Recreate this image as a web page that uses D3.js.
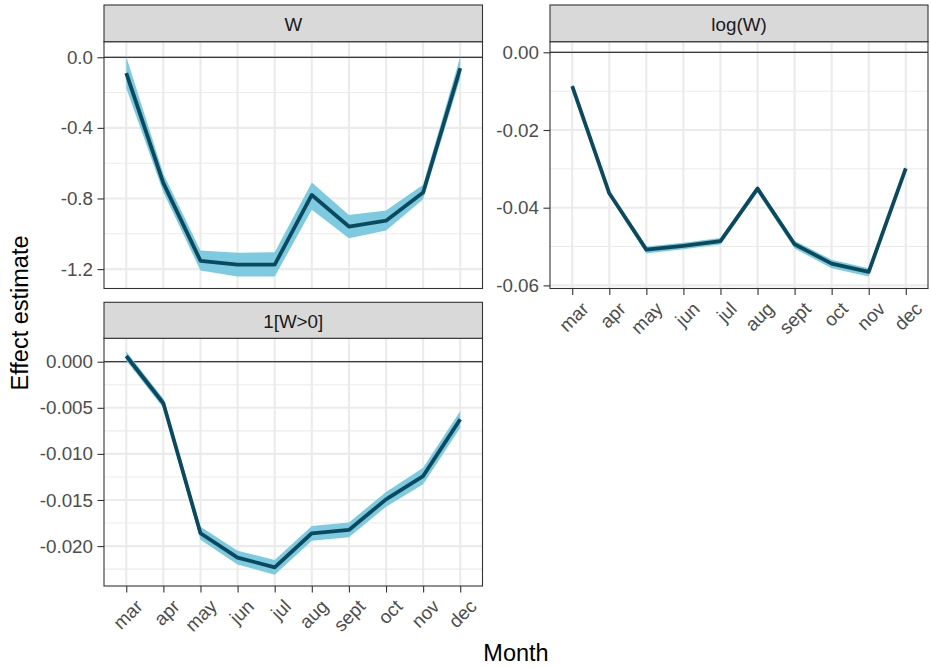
<!DOCTYPE html>
<html>
<head>
  <meta charset="utf-8" />
  <title>Effect estimate by month</title>
  <style type="text/css">
    html, body { margin: 0; background: #fff; }
    svg { display: block; font-family: "Liberation Sans", Arial, sans-serif; }
  </style>
</head>
<body>
<div id="container"></div>
<script src="https://cdn.jsdelivr.net/npm/d3@7"></script>
<script>
var months = ["mar", "apr", "may", "jun", "jul", "aug", "sept", "oct", "nov", "dec"];

// W
var wEst = [-0.09, -0.713, -1.153, -1.175, -1.175, -0.78, -0.959, -0.926, -0.766, -0.062];
var wLo  = [-0.175, -0.765, -1.208, -1.242, -1.242, -0.864, -1.025, -0.981, -0.804, -0.119];
var wHi  = [0.003, -0.66, -1.095, -1.108, -1.104, -0.71, -0.893, -0.868, -0.723, 0.003];

// log(W)
var logEst = [-0.0087, -0.0363, -0.0508, -0.0498, -0.0486, -0.0351, -0.0494, -0.0544, -0.0565, -0.0299];
var logLo  = [-0.0093, -0.0369, -0.0518, -0.0507, -0.0495, -0.0360, -0.0505, -0.0556, -0.0577, -0.0305];
var logHi  = [-0.0081, -0.0357, -0.0500, -0.0490, -0.0478, -0.0342, -0.0485, -0.0534, -0.0556, -0.0293];

// 1[W>0]
var indEst = [0.00062, -0.00451, -0.01861, -0.02125, -0.0223, -0.01861, -0.01825, -0.01493, -0.0124, -0.00625];
var indLo  = [0.00012, -0.00501, -0.01931, -0.02200, -0.0231, -0.01941, -0.01905, -0.01573, -0.0133, -0.00715];
var indHi  = [0.00112, -0.00401, -0.01791, -0.02050, -0.0215, -0.01781, -0.01745, -0.01413, -0.0115, -0.00535];

var wTicks = [0, -0.4, -0.8, -1.2];
var logTicks = [0, -0.02, -0.04, -0.06];
var indTicks = [0, -0.005, -0.01, -0.015, -0.02];

var width = 931, height = 668;
var ribbonCol = "#7ecae1", lineCol = "#0b4a5e";
var tickFont = 18.8, titleFont = 23.5;

var svg = d3.select("#container").append("svg")
    .attr("width", width)
    .attr("height", height);

var panels = [
  { name: "W", est: wEst, lo: wLo, hi: wHi, ticks: wTicks, dec: 1,
    domain: [-1.31, 0.088], x0: 104, x1: 482.5, stripTop: 5, top: 41.7, bottom: 288.5 },
  { name: "log(W)", est: logEst, lo: logLo, hi: logHi, ticks: logTicks, dec: 2,
    domain: [-0.0608, 0.00273], x0: 550, x1: 928, stripTop: 5, top: 41.7, bottom: 288.5 },
  { name: "1[W>0]", est: indEst, lo: indLo, hi: indHi, ticks: indTicks, dec: 3,
    domain: [-0.02433, 0.00254], x0: 104, x1: 482.5, stripTop: 302.3, top: 338.3, bottom: 586 }
];

panels.forEach(drawPanel);

function drawPanel(p) {
  var x = d3.scalePoint().domain(months).range([p.x0, p.x1]).padding(0.6);
  var y = d3.scaleLinear().domain(p.domain).range([p.bottom, p.top]);
  var g = svg.append("g");

  // minor grid (midpoints between major ticks)
  var step = p.ticks[0] - p.ticks[1];
  var minor = [];
  for (var i = 0; i < p.ticks.length; i++) {
    var m = p.ticks[i] - step / 2;
    if (y(m) < p.bottom && y(m) > p.top) minor.push(m);
  }
  g.selectAll(".minor").data(minor).enter().append("line")
    .attr("x1", p.x0).attr("x2", p.x1)
    .attr("y1", function(d) { return y(d); })
    .attr("y2", function(d) { return y(d); })
    .attr("stroke", "#ebebeb").attr("stroke-width", 1.05);

  g.selectAll(".hmajor").data(p.ticks).enter().append("line")
    .attr("x1", p.x0).attr("x2", p.x1)
    .attr("y1", function(d) { return y(d); })
    .attr("y2", function(d) { return y(d); })
    .attr("stroke", "#ebebeb").attr("stroke-width", 2.1);

  g.selectAll(".vmajor").data(months).enter().append("line")
    .attr("x1", function(d) { return x(d); })
    .attr("x2", function(d) { return x(d); })
    .attr("y1", p.top).attr("y2", p.bottom)
    .attr("stroke", "#ebebeb").attr("stroke-width", 2.1);

  // zero reference line
  g.append("line")
    .attr("x1", p.x0).attr("x2", p.x1)
    .attr("y1", y(0)).attr("y2", y(0))
    .attr("stroke", "#000").attr("stroke-width", 1.1);

  var area = d3.area()
    .x(function(d, i) { return x(months[i]); })
    .y0(function(d, i) { return y(p.lo[i]); })
    .y1(function(d, i) { return y(p.hi[i]); });
  g.append("path").datum(p.est)
    .attr("d", area)
    .attr("fill", ribbonCol);

  var line = d3.line()
    .x(function(d, i) { return x(months[i]); })
    .y(function(d) { return y(d); });
  g.append("path").datum(p.est)
    .attr("d", line)
    .attr("fill", "none")
    .attr("stroke", lineCol)
    .attr("stroke-width", 3.8)
    .attr("stroke-linejoin", "round");

  // panel border
  g.append("rect")
    .attr("x", p.x0).attr("y", p.top)
    .attr("width", p.x1 - p.x0).attr("height", p.bottom - p.top)
    .attr("fill", "none").attr("stroke", "#333").attr("stroke-width", 1.1);

  // strip
  g.append("rect")
    .attr("x", p.x0).attr("y", p.stripTop)
    .attr("width", p.x1 - p.x0).attr("height", p.top - p.stripTop)
    .attr("fill", "#d9d9d9").attr("stroke", "#333").attr("stroke-width", 1.1);
  g.append("text")
    .attr("x", (p.x0 + p.x1) / 2)
    .attr("y", (p.stripTop + p.top) / 2 + 1)
    .attr("text-anchor", "middle")
    .attr("dominant-baseline", "central")
    .attr("font-size", tickFont)
    .attr("fill", "#1a1a1a")
    .text(p.name);

  // y axis
  var yAxis = d3.axisLeft(y).tickValues(p.ticks).tickSize(6.5).tickPadding(4.5)
    .tickFormat(function(d) { return d.toFixed(p.dec); });
  var ya = g.append("g").attr("transform", "translate(" + p.x0 + ",0)").call(yAxis);
  styleAxis(ya);

  // x axis (only bottom panels)
  if (p.name != "W") {
    var xAxis = d3.axisBottom(x).tickSize(6.5).tickFormat("");
    var xa = g.append("g").attr("transform", "translate(0," + p.bottom + ")").call(xAxis);
    styleAxis(xa);
    g.selectAll(".xlab").data(months).enter().append("text")
      .attr("transform", function(d) {
        return "translate(" + (x(d) + 8) + "," + (p.bottom + 12) + ") rotate(-45)";
      })
      .attr("text-anchor", "end")
      .attr("dy", "0.72em")
      .attr("font-size", tickFont)
      .attr("fill", "#4d4d4d")
      .text(function(d) { return d; });
  }
}

function styleAxis(a) {
  a.select(".domain").remove();
  a.selectAll(".tick line").attr("stroke", "#333").attr("stroke-width", 1.1);
  a.selectAll(".tick text")
    .attr("font-size", tickFont)
    .attr("font-family", "Liberation Sans, Arial, sans-serif")
    .attr("fill", "#4d4d4d");
}

// axis titles
svg.append("text")
  .attr("x", 516)
  .attr("y", 661)
  .attr("text-anchor", "middle")
  .attr("font-size", titleFont)
  .attr("fill", "#000")
  .text("Month");

svg.append("text")
  .attr("transform", "translate(28,313) rotate(-90)")
  .attr("text-anchor", "middle")
  .attr("font-size", titleFont)
  .attr("fill", "#000")
  .text("Effect estimate");
</script>
</body>
</html>
